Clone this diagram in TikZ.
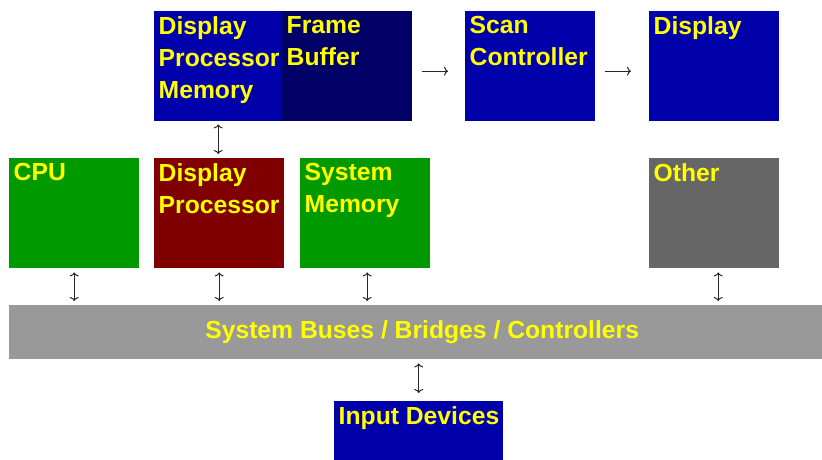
\documentclass[tikz,border=0pt]{standalone}
\usepackage{fontspec}
\setmainfont{Liberation Sans}
\usetikzlibrary{arrows.meta}

\definecolor{procblue}{HTML}{0000AA}
\definecolor{fbnavy}{HTML}{000066}
\definecolor{cpugreen}{HTML}{009900}
\definecolor{dpred}{HTML}{800000}
\definecolor{othergray}{HTML}{666666}
\definecolor{busgray}{HTML}{999999}
\definecolor{labelyellow}{HTML}{FFFF00}

% fixed-size block with its label set in the top-left corner
\newcommand\unittext[3]{\parbox[t][#2][t]{#1}{\vspace*{5.5pt}\raggedright\leftskip=4.5pt\relax #3}}

\tikzset{
  labelfont/.style={font=\fontsize{24.7}{32}\selectfont\bfseries},
  unit/.style={anchor=north west, inner sep=0pt, text=labelyellow, labelfont},
  conn/.style={{To[length=4pt,width=9pt]}-{To[length=4pt,width=9pt]}, line width=1pt, black!85},
  flow/.style={-{To[length=4pt,width=9pt]}, line width=1pt, black!85}
}

\begin{document}
\begin{tikzpicture}[x=1pt,y=-1pt]
\useasboundingbox (0,0) rectangle (822,459);

% top row: display path
\node[unit, fill=procblue] (dpm) at (154,11) {\unittext{128pt}{110pt}{Display\\Processor\\Memory}};
\node[unit, fill=fbnavy]   (fb)  at (282,11) {\unittext{130pt}{110pt}{Frame\\Buffer}};
\node[unit, fill=procblue] (sc)  at (465,11) {\unittext{130pt}{110pt}{Scan\\Controller}};
\node[unit, fill=procblue] (disp) at (649,11) {\unittext{130pt}{110pt}{Display}};

% middle row: units on the system bus
\node[unit, fill=cpugreen]   (cpu) at (9,158)   {\unittext{130pt}{110pt}{CPU}};
\node[unit, fill=dpred]      (dp)  at (154,158) {\unittext{130pt}{110pt}{Display\\Processor}};
\node[unit, fill=cpugreen]   (sm)  at (300,158) {\unittext{130pt}{110pt}{System\\Memory}};
\node[unit, fill=othergray]  (oth) at (649,158) {\unittext{130pt}{110pt}{Other}};

% system bus
\node[anchor=north west, inner sep=0pt, fill=busgray, minimum width=826pt, minimum height=54pt,
      text=labelyellow, labelfont] (bus) at (9,305)
      {System Buses / Bridges / Controllers};

% input devices
\node[unit, fill=procblue] (inp) at (334,401) {\unittext{169pt}{110pt}{Input Devices}};

% connectors
\draw[flow, shorten <=10pt, shorten >=17pt] ([yshift=-5pt]fb.east) -- ([yshift=-5pt]sc.west);
\draw[flow, shorten <=10pt, shorten >=18pt] ([yshift=-5pt]sc.east) -- ([yshift=-5pt]disp.west);
\draw[conn, shorten <=3pt, shorten >=4pt] (dpm.south) -- (dpm.south |- dp.north);
\draw[conn, shorten <=4pt, shorten >=4pt] (cpu.south) -- (cpu.south |- bus.north);
\draw[conn, shorten <=4pt, shorten >=4pt] (dp.south) -- (dp.south |- bus.north);
\draw[conn, shorten <=4pt, shorten >=4pt] ([xshift=2pt]sm.south) -- ([xshift=2pt]sm.south |- bus.north);
\draw[conn, shorten <=4pt, shorten >=4pt] ([xshift=4pt]oth.south) -- ([xshift=4pt]oth.south |- bus.north);
\draw[conn, shorten <=4pt, shorten >=8pt] (inp.north |- bus.south) -- (inp.north);
\end{tikzpicture}
\end{document}
